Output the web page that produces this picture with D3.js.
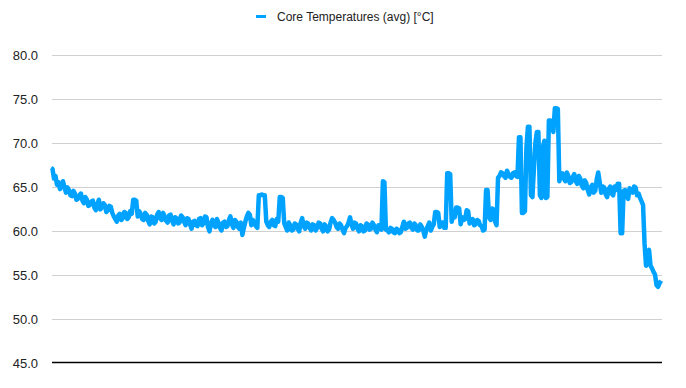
<!DOCTYPE html>
<html>
<head>
<meta charset="utf-8">
<script src="https://cdn.jsdelivr.net/npm/d3@7"></script>
<style>
  body { margin: 0; background: #fff; }
  text { font-family: "Liberation Sans", Arial, sans-serif; }
</style>
</head>
<body>
<svg></svg>
<script>
// core temps (one reading every ~1.5px)
var seriesName = 'Core Temperatures (avg) [°C]'
var yTicks = [45, 50, 55, 60, 65, 70, 75, 80]
var temps = [
  67.1, 67.0, 65.9, 66.2, 65.2, 65.5, 64.7, 65.0, 65.6, 64.9, 64.3, 64.9, 64.6, 64.0, 63.9, 64.5, 64.2, 63.5, 63.6, 64.0,
  64.2, 63.4, 63.1, 63.8, 63.5, 62.8, 62.9, 63.3, 63.4, 62.6, 62.3, 63.0, 63.5, 62.4, 62.6, 63.1, 62.9, 62.1, 62.3, 62.8,
  62.7, 62.0, 61.6, 61.3, 61.0, 61.7, 61.9, 61.2, 61.4, 62.1, 62.0, 61.3, 61.5, 62.2, 61.9, 63.5, 63.5, 63.4, 61.6, 62.2,
  61.9, 61.3, 61.2, 62.0, 61.8, 61.1, 60.7, 61.6, 61.5, 60.8, 61.0, 61.8, 62.1, 61.4, 61.2, 62.0, 61.6, 61.1, 60.9, 61.7,
  61.8, 61.1, 60.7, 61.5, 61.4, 60.8, 60.9, 61.7, 61.5, 61.0, 60.6, 61.4, 61.3, 60.7, 60.2, 61.0, 61.1, 60.6, 60.5, 61.3,
  61.4, 60.6, 60.8, 61.6, 61.5, 60.4, 59.9, 60.8, 61.2, 60.6, 60.4, 61.3, 60.9, 60.3, 60.0, 60.9, 61.0, 60.4, 60.5, 61.2,
  61.6, 60.7, 60.3, 61.2, 61.0, 60.4, 60.2, 60.9, 59.5, 60.3, 61.0, 61.6, 62.0, 61.8, 60.6, 61.2, 60.9, 60.5, 60.3, 64.0,
  64.0, 64.1, 64.0, 64.0, 61.0, 60.6, 60.4, 61.0, 61.2, 60.6, 60.5, 61.3, 61.0, 63.8, 63.8, 63.7, 60.8, 60.4, 60.0, 60.9,
  60.6, 60.0, 60.1, 60.8, 60.7, 60.2, 59.9, 60.9, 61.4, 60.5, 60.2, 60.9, 60.8, 60.3, 60.0, 60.7, 60.6, 60.0, 60.3, 60.9,
  60.8, 60.2, 59.9, 60.7, 60.5, 59.9, 60.1, 60.9, 61.4, 61.2, 60.9, 60.4, 60.2, 60.8, 60.6, 60.1, 59.7, 60.3, 60.5, 60.9,
  61.5, 60.7, 60.2, 60.9, 60.8, 60.2, 59.9, 60.6, 60.5, 59.9, 60.0, 60.8, 60.7, 60.1, 60.2, 60.9, 60.6, 60.1, 59.8, 60.6,
  60.3, 60.1, 65.6, 65.5, 60.1, 60.0, 59.8, 60.3, 60.2, 59.8, 59.7, 60.2, 60.1, 59.7, 59.8, 60.4, 61.0, 60.2, 60.3, 60.8,
  60.9, 60.3, 60.1, 60.8, 60.6, 60.0, 60.0, 60.7, 60.4, 60.0, 59.3, 60.1, 60.5, 60.9, 60.0, 60.4, 60.7, 62.1, 62.1, 62.0,
  60.4, 60.9, 60.9, 60.3, 60.3, 66.5, 66.5, 66.4, 61.0, 61.8, 61.5, 62.6, 62.6, 62.5, 60.7, 61.5, 61.2, 61.3, 62.3, 62.2,
  60.8, 61.2, 61.3, 60.6, 60.7, 61.2, 61.1, 60.6, 60.5, 60.0, 60.1, 64.6, 64.6, 61.5, 61.2, 62.5, 62.4, 61.0, 60.6, 66.0,
  66.2, 66.6, 66.5, 66.2, 66.0, 66.8, 66.4, 66.1, 66.0, 66.5, 66.6, 66.2, 66.1, 70.6, 70.6, 62.0, 62.0, 62.2, 69.5, 71.8,
  71.8, 64.0, 63.8, 67.0, 70.0, 71.2, 71.2, 64.0, 63.7, 69.5, 70.2, 63.7, 63.8, 72.5, 72.5, 72.4, 71.2, 73.9, 73.9, 73.8,
  65.6, 66.3, 66.5, 65.9, 65.6, 66.6, 66.2, 65.4, 65.5, 66.1, 66.4, 65.6, 65.3, 66.2, 65.9, 65.1, 64.8, 65.7, 65.4, 64.6,
  64.1, 64.9, 65.2, 64.3, 64.5, 65.8, 66.6, 65.5, 64.3, 65.0, 64.9, 64.1, 63.8, 64.7, 65.0, 64.2, 64.0, 65.0, 64.6, 65.3,
  65.3, 59.7, 59.7, 64.5, 64.6, 64.0, 63.6, 64.8, 64.4, 64.3, 65.0, 64.9, 64.0, 64.2, 63.7, 63.3, 62.9, 58.5, 56.0, 57.6,
  57.8, 56.0, 55.7, 55.3, 55.0, 53.8, 53.6, 54.0, 54.3
]

var width = 686
var height = 388
var plotLeft = 52
var plotRight = 662
var plotTop = 54.5
var plotBottom = 362.5
var color = '#00a2ff'

var svg = d3.select('svg')
  .attr('width', width)
  .attr('height', height)

var xScale = d3.scaleLinear()
  .domain([0, temps.length - 1])
  .range([plotLeft - 1, plotRight - 1])

var yScale = d3.scaleLinear()
  .domain([45, 80])
  .range([plotBottom, plotTop])

// grid lines
svg.append('g')
  .selectAll('line')
  .data(yTicks.filter(d => d !== 45))
  .enter()
  .append('line')
    .attr('x1', plotLeft)
    .attr('x2', plotRight)
    .attr('y1', d => Math.round(yScale(d)) + 0.5)
    .attr('y2', d => Math.round(yScale(d)) + 0.5)
    .attr('stroke', '#d0d0d0')
    .attr('stroke-width', 1)

// y labels
svg.append('g')
  .selectAll('text')
  .data(yTicks)
  .enter()
  .append('text')
    .attr('x', 38)
    .attr('y', d => yScale(d) + 5)
    .attr('text-anchor', 'end')
    .style('font-size', '13px')
    .style('fill', '#222')
    .text(d => d.toFixed(1))

// base line
svg.append('line')
  .attr('x1', plotLeft)
  .attr('x2', plotRight)
  .attr('y1', yScale(45))
  .attr('y2', yScale(45))
  .attr('stroke', '#000')
  .attr('stroke-width', 1.5)

var line = d3.line()
  .x((d, i) => xScale(i))
  .y(d => yScale(d))

svg.append('path')
  .datum(temps)
  .attr('d', line)
  .attr('fill', 'none')
  .attr('stroke', color)
  .attr('stroke-width', 4.5)
  .attr('stroke-linejoin', 'round')

// legend
svg.append('line')
  .attr('x1', 256)
  .attr('x2', 266)
  .attr('y1', 16.5)
  .attr('y2', 16.5)
  .attr('stroke', color)
  .attr('stroke-width', 3)

svg.append('text')
  .attr('x', 277)
  .attr('y', 21)
  .style('font-size', '12px')
  .style('fill', '#222')
  .text(seriesName)
</script>
</body>
</html>
